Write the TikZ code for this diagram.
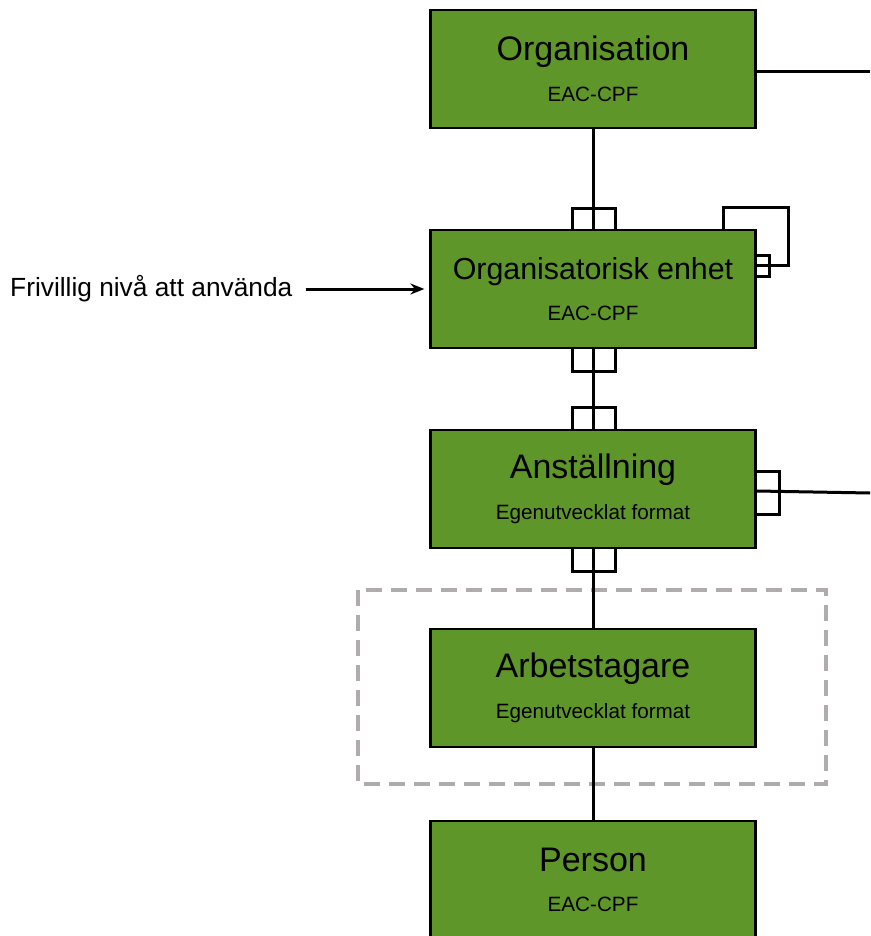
\documentclass[tikz,border=0pt]{standalone}
\usepackage{fontspec}
\setmainfont{Liberation Sans}
\usetikzlibrary{arrows.meta, positioning, calc}
\definecolor{entgreen}{HTML}{5E962A}
\definecolor{ramgray}{HTML}{B0ACAC}
\newcommand{\formatnamn}[1]{{\fontsize{20.7}{24}\selectfont #1}}

\begin{document}
\begin{tikzpicture}[x=1pt, y=-1pt, pilstil/.style={draw=black, line width=3pt, -{Stealth[length=14pt, width=11pt]}}]
    \tikzstyle{entity} = [rectangle, draw=black, line width=2.2pt, fill=entgreen, minimum width=325pt, minimum height=118pt, inner sep=0pt, align=center, font=\fontsize{34}{40.5}\selectfont]
    \tikzstyle{relation} = [draw=black, line width=3pt]
    \tikzstyle{ram} = [draw=ramgray, line width=3.6pt, dash pattern=on 16pt off 9pt]
    \useasboundingbox (0,0) rectangle (870,936);

    \draw[ram] (358,590) rectangle (826,784);

    \node[entity] (org) at (593,69) {Organisation\\\formatnamn{EAC-CPF}};
    \node[entity] (enhet) at (593,289) {\fontsize{30.4}{40}\selectfont Organisatorisk enhet\\\formatnamn{EAC-CPF}};
    \node[entity] (anst) at (593,489) {Anställning\\\formatnamn{Egenutvecklat format}};
    \node[entity] (arb) at (593,688) {Arbetstagare\\\formatnamn{Egenutvecklat format}};
    \node[entity] (person) at (593,880) {Person\\\formatnamn{EAC-CPF}};
    \node[anchor=west, inner sep=0pt, font=\fontsize{26.3}{30}\selectfont] (frivillig) at (10,289) {Frivillig nivå att använda};
    \coordinate (orgut) at (870,72);
    \coordinate (anstut) at (870,493);

    \draw[relation] (org) -- (enhet);
    \draw[relation] (enhet) -- (anst);
    \draw[relation] (anst) -- (arb);
    \draw[relation] (arb) -- (person);
    \draw[relation] ([yshift=-3pt]org.east) -- (orgut);
    \draw[relation] ([yshift=-2pt]anst.east) -- (anstut);

    % many-markers
    \draw[relation] ([xshift=-21pt]enhet.north) -- ++(0,-20) -| ([xshift=22pt]enhet.north);
    \draw[relation] ([xshift=-21pt]enhet.south) -- ++(0,22) -| ([xshift=22pt]enhet.south);
    \draw[relation] ([xshift=-21pt]anst.north) -- ++(0,-21) -| ([xshift=22pt]anst.north);
    \draw[relation] ([xshift=-21pt]anst.south) -- ++(0,22) -| ([xshift=22pt]anst.south);
    \draw[relation] ([yshift=18pt]anst.east) -- ++(23,0) |- ([yshift=-25pt]anst.east);

    % self relation
    \draw[relation] ([xshift=130pt]enhet.north) -- ++(0,-21) -- ++(65,0) |- ([yshift=24pt]enhet.east);
    \draw[relation] ([yshift=34pt]enhet.east) -- ++(13,0) |- ([yshift=13pt]enhet.east);

    \draw[pilstil, shorten <=13pt, shorten >=5pt] (frivillig.east) -- (enhet.west);
\end{tikzpicture}
\end{document}
